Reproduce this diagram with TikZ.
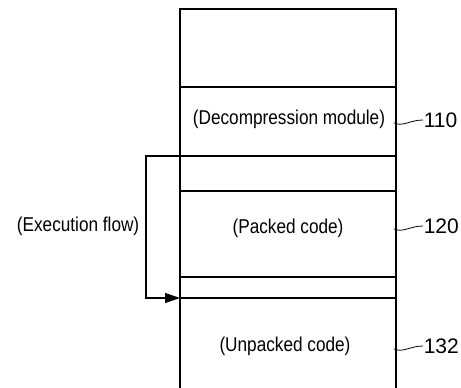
\documentclass[tikz,border=0pt]{standalone}
\usepackage{fontspec}
\setmainfont{Liberation Sans}
\newfontfamily\narrowsans[FakeStretch=0.86]{Liberation Sans}
\usetikzlibrary{arrows.meta}
\tikzset{
  memtext/.style={font=\narrowsans\fontsize{20}{24}\selectfont, inner sep=0pt},
  refnum/.style={font=\fontsize{21}{25}\selectfont, anchor=west, inner sep=0pt},
  leader/.style={line width=0.8pt},
  flow/.style={line width=1.3pt, -{Triangle[length=15pt,width=10pt]}}
}
\begin{document}
\begin{tikzpicture}[x=1pt, y=-1pt, line width=1.5pt]
        \useasboundingbox (0,0) rectangle (461,388);
        % corners of the memory column
        \coordinate (topleft)      at (180,   9);
        \coordinate (topright)     at (396,   9);
        \coordinate (bottomleft)   at (180, 388);
        \coordinate (bottomright)  at (396, 388);
        % section borders, top to bottom
        \coordinate (decompleft)   at (180,  87);
        \coordinate (decompright)  at (396,  87);
        \coordinate (gapaleft)     at (180, 156);
        \coordinate (gaparight)    at (396, 156);
        \coordinate (packedleft)   at (180, 191);
        \coordinate (packedright)  at (396, 191);
        \coordinate (gapbleft)     at (180, 277);
        \coordinate (gapbright)    at (396, 277);
        \coordinate (unpackleft)   at (180, 298);
        \coordinate (unpackright)  at (396, 298);
        % turning points of the flow
        \coordinate (flowtop)      at (146, 156);
        \coordinate (flowbottom)   at (146, 298);
        % drawing the column
        \draw (bottomleft)  -- (topleft) -- (topright) -- (bottomright);
        \draw (decompleft)  -- (decompright);
        \draw (gapaleft)    -- (gaparight);
        \draw (packedleft)  -- (packedright);
        \draw (gapbleft)    -- (gapbright);
        \draw (unpackleft)  -- (unpackright);
        % texts in the sections
        \node[memtext] (decomp)   at (289, 119) {(Decompression module)};
        \node[memtext] (packed)   at (288, 228) {(Packed code)};
        \node[memtext] (unpacked) at (285, 346) {(Unpacked code)};
        \node[memtext, anchor=east] (flowlabel) at (140, 226) {(Execution flow)};
        % execution flow
        \draw[flow] (gapaleft) -- (flowtop) -- (flowbottom) -- (unpackleft);
        % reference numerals
        \node[refnum] (num110) at (423, 120) {110};
        \node[refnum] (num120) at (423, 226) {120};
        \node[refnum] (num132) at (423, 346) {132};
        \draw[leader] (394, 123) .. controls (403, 127) and (410, 120) .. (num110.west);
        \draw[leader] (394, 229) .. controls (403, 233) and (410, 226) .. (num120.west);
        \draw[leader] (394, 349) .. controls (403, 353) and (410, 346) .. (num132.west);
\end{tikzpicture}
\end{document}
